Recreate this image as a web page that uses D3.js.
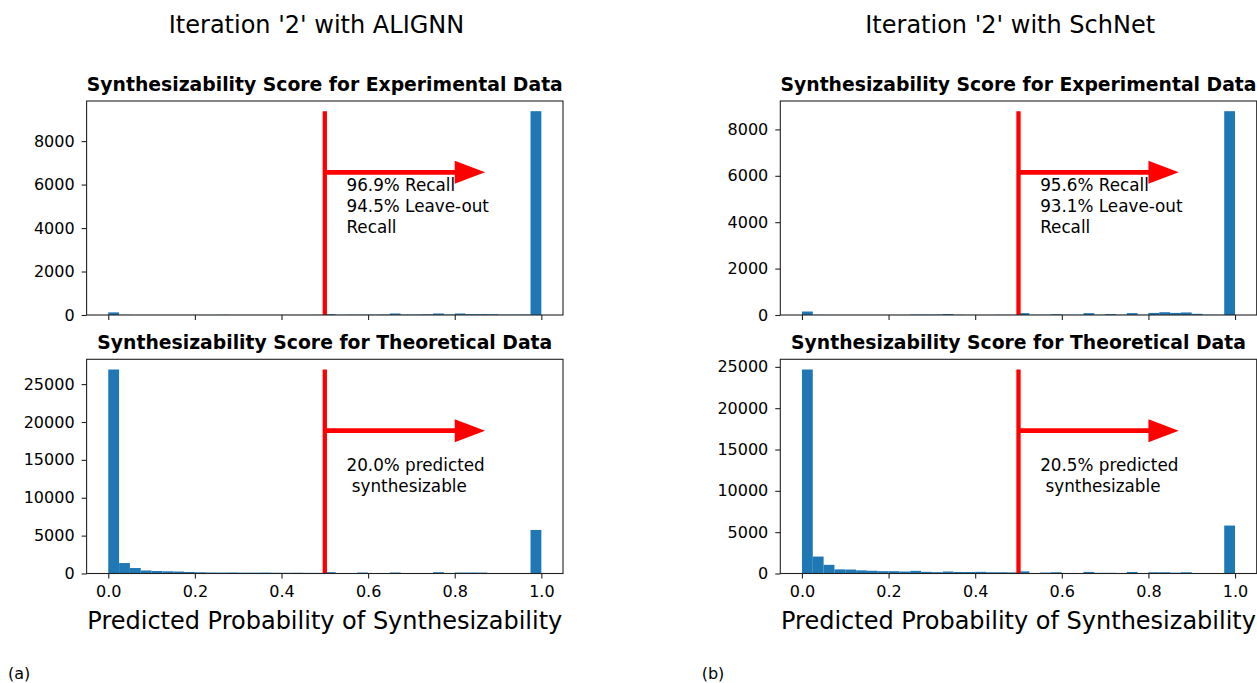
<!DOCTYPE html>
<html>
<head>
<meta charset="utf-8">
<script src="https://cdn.jsdelivr.net/npm/d3@7"></script>
<style>
  body { margin: 0; background: #fff; }
  svg { display: block; }
  text { font-family: "DejaVu Sans", sans-serif; fill: #000; }
</style>
</head>
<body>
<div id="chart"></div>
<script>
// histogram counts, 40 bins over [0, 1]
const alignnExp = [120, 10, 5, 5, 5, 5, 5, 5, 5, 5, 10, 5, 5, 5, 5, 5, 5, 5, 5, 10,
                   40, 10, 15, 15, 15, 20, 70, 20, 20, 30, 70, 20, 70, 40, 40, 35, 15, 15, 20, 9375];
const alignnTheo = [26930, 1380, 720, 400, 330, 290, 260, 200, 160, 130, 120, 130, 110, 110, 120, 100, 90, 100, 80, 80,
                    180, 40, 50, 130, 40, 40, 130, 40, 40, 40, 170, 40, 130, 130, 120, 40, 30, 30, 20, 5750];
const schnetExp = [150, 10, 5, 5, 5, 5, 5, 5, 5, 5, 20, 20, 20, 40, 10, 5, 5, 5, 10, 10,
                   80, 10, 10, 30, 10, 10, 80, 10, 40, 10, 80, 10, 90, 120, 90, 110, 50, 10, 10, 8785];
const schnetTheo = [24680, 2050, 1050, 500, 480, 380, 330, 280, 280, 240, 320, 200, 160, 240, 180, 180, 200, 150, 150, 130,
                    260, 40, 110, 150, 40, 50, 190, 80, 80, 40, 190, 50, 150, 150, 100, 150, 60, 30, 20, 5800];

const xTicks = [0, 0.2, 0.4, 0.6, 0.8, 1.0];
const expTicks = [0, 2000, 4000, 6000, 8000];
const theoTicks = [0, 5000, 10000, 15000, 20000, 25000];

const models = ["ALIGNN", "SchNet"];
const panelLabels = ["(a)", "(b)"];
const expNotes = [["96.9% Recall", "94.5% Leave-out", "Recall"], ["95.6% Recall", "93.1% Leave-out", "Recall"]];
const theoNotes = [["20.0% predicted", " synthesizable"], ["20.5% predicted", " synthesizable"]];

const threshold = 0.5;

const W = 1257, H = 683;
const svg = d3.select("#chart").append("svg").attr("width", W).attr("height", H);

const blue = "#1f77b4", red = "#ff0000";

function drawAxes(g, counts, ticks, top, bottom, title, notes, showX) {
  const x = d3.scaleLinear().domain([-0.05, 1.05]).range([86.6, 563]);
  const maxV = d3.max(counts);
  const y = d3.scaleLinear().domain([0, maxV * 1.05]).range([bottom, top]);
  const bw = 1 / counts.length;

  // bars
  g.append("g").selectAll("rect")
    .data(counts)
    .join("rect")
    .attr("x", (d, i) => x(i * bw))
    .attr("width", (d, i) => x((i + 1) * bw) - x(i * bw))
    .attr("y", d => y(d))
    .attr("height", d => y(0) - y(d))
    .attr("fill", blue);

  // threshold line
  g.append("line")
    .attr("x1", x(threshold)).attr("x2", x(threshold))
    .attr("y1", y(0)).attr("y2", y(maxV))
    .attr("stroke", red).attr("stroke-width", 4.3);

  // arrow
  const ay = y(maxV * 0.7);
  const x0 = x(threshold), x1 = x(0.8), x2 = x(0.87);
  const sw = 2.4, hw = 11.5;
  g.append("path")
    .attr("d", `M${x0},${ay - sw}L${x1},${ay - sw}L${x1},${ay - hw}L${x2},${ay}L${x1},${ay + hw}L${x1},${ay + sw}L${x0},${ay + sw}Z`)
    .attr("fill", red);

  // annotation
  const base = y(maxV * 0.4);
  g.append("text")
    .attr("font-size", 16.8)
    .style("white-space", "pre")
    .selectAll("tspan")
    .data(notes)
    .join("tspan")
    .attr("x", x(0.55))
    .attr("y", (d, i) => base - (notes.length - 1 - i) * 21)
    .text(d => d);

  // axes
  const yAxis = g.append("g")
    .attr("transform", `translate(${x.range()[0]},0)`)
    .call(d3.axisLeft(y).tickValues(ticks).tickSize(5).tickPadding(7).tickFormat(d3.format("d")));
  const xAxis = g.append("g")
    .attr("transform", `translate(0,${bottom})`)
    .call(d3.axisBottom(x).tickValues(xTicks).tickSize(5).tickPadding(7).tickFormat(showX ? d3.format(".1f") : ""));
  [yAxis, xAxis].forEach(a => {
    a.select(".domain").remove();
    a.selectAll("line").attr("stroke", "#222").attr("stroke-width", 1.1);
    a.selectAll("text").attr("font-size", 16).attr("fill", "#000").style("font-family", "DejaVu Sans");
  });

  // frame
  g.append("rect")
    .attr("x", x.range()[0]).attr("y", top)
    .attr("width", x.range()[1] - x.range()[0]).attr("height", bottom - top)
    .attr("fill", "none").attr("stroke", "#222").attr("stroke-width", 1.1);

  g.append("text")
    .attr("x", (x.range()[0] + x.range()[1]) / 2)
    .attr("y", top - 10)
    .attr("text-anchor", "middle")
    .attr("font-size", 18.8)
    .attr("font-weight", "bold")
    .text(title);

  if (showX) {
    g.append("text")
      .attr("x", (x.range()[0] + x.range()[1]) / 2)
      .attr("y", bottom + 55)
      .attr("text-anchor", "middle")
      .attr("font-size", 24)
      .text("Predicted Probability of Synthesizability");
  }
}

const expData = [alignnExp, schnetExp];
const theoData = [alignnTheo, schnetTheo];

models.forEach((m, k) => {
  const g = svg.append("g").attr("transform", `translate(${k * 693.7},0)`);
  g.append("text")
    .attr("x", 316.5).attr("y", 33)
    .attr("text-anchor", "middle")
    .attr("font-size", 24)
    .text(`Iteration '2' with ${m}`);

  drawAxes(g, expData[k], expTicks, 101, 315, "Synthesizability Score for Experimental Data", expNotes[k], false);
  drawAxes(g, theoData[k], theoTicks, 359.3, 573.5, "Synthesizability Score for Theoretical Data", theoNotes[k], true);

  g.append("text")
    .attr("x", 8).attr("y", 679)
    .attr("font-size", 16)
    .text(panelLabels[k]);
});
</script>
</body>
</html>
